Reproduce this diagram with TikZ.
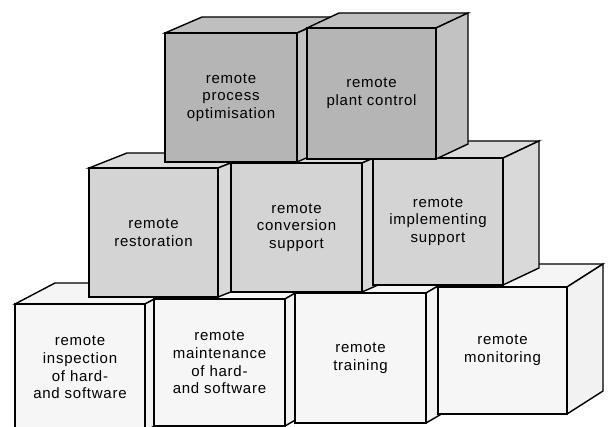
\documentclass[tikz,border=0pt]{standalone}
\usepackage{fontspec}
\setmainfont{Liberation Sans}
\newfontfamily\blockfont[LetterSpace=5]{Liberation Sans}

% face colours for the three tiers of blocks
\definecolor{darkfront}{gray}{0.71}
\definecolor{darktop}{gray}{0.75}
\definecolor{darkside}{gray}{0.76}
\definecolor{midfront}{gray}{0.83}
\definecolor{midtop}{gray}{0.86}
\definecolor{midside}{gray}{0.85}
\definecolor{lightfront}{gray}{0.965}
\definecolor{lighttop}{gray}{0.96}
\definecolor{lightside}{gray}{0.95}

\tikzset{
  edge/.style={draw=black, line width=1.4pt, line join=miter},
  blocktext/.style={align=center, font=\blockfont\fontsize{15}{17.7}\selectfont, text=black, inner sep=0pt}
}

% \blockcube{name}{left}{top}{right}{bottom}{depth x}{depth y}{tier}{text}
\newcommand\blockcube[9]{%
  \filldraw[edge, fill=#8top]
    (#2,#3) -- ++(#6,-#7) -- ({#4+#6},{#3-#7}) -- (#4,#3) -- cycle;
  \filldraw[edge, fill=#8side]
    (#4,#3) -- ++(#6,-#7) -- ({#4+#6},{#5-#7}) -- (#4,#5) -- cycle;
  \filldraw[edge, fill=#8front] (#2,#3) rectangle (#4,#5);
  \node[blocktext] (#1) at ({(#2+#4)/2},{(#3+#5)/2}) {#9};
}

\begin{document}
\begin{tikzpicture}[x=1pt, y=-1pt]
  \useasboundingbox (0,0) rectangle (608,427);
  \clip (0,0) rectangle (608,427);
  \fill[white] (0,0) rectangle (608,427);

  % bottom tier
  \blockcube{inspection}{15}{304}{145}{431}{40}{21}{light}{remote\\inspection\\of hard-\\and software}
  \blockcube{maintenance}{154}{299}{285}{426}{38}{22}{light}{remote\\maintenance\\of hard-\\and software}
  \blockcube{training}{295}{293}{426}{423}{38}{22}{light}{remote\\training}
  \blockcube{monitoring}{438}{287}{567}{414}{36}{23}{light}{remote\\monitoring}

  % middle tier
  \blockcube{restoration}{89}{168}{218}{297}{38}{15}{mid}{remote\\restoration}
  \blockcube{conversion}{231}{163}{362}{292}{37}{16}{mid}{remote\\conversion\\support}
  \blockcube{implementing}{373}{158}{503}{285}{36}{17}{mid}{remote\\implementing\\support}

  % top tier
  \blockcube{optimisation}{165}{33}{297}{162}{37}{16}{dark}{remote\\process\\optimisation}
  \blockcube{plantcontrol}{307}{28}{436}{159}{32}{15}{dark}{remote\\plant control}
\end{tikzpicture}
\end{document}
